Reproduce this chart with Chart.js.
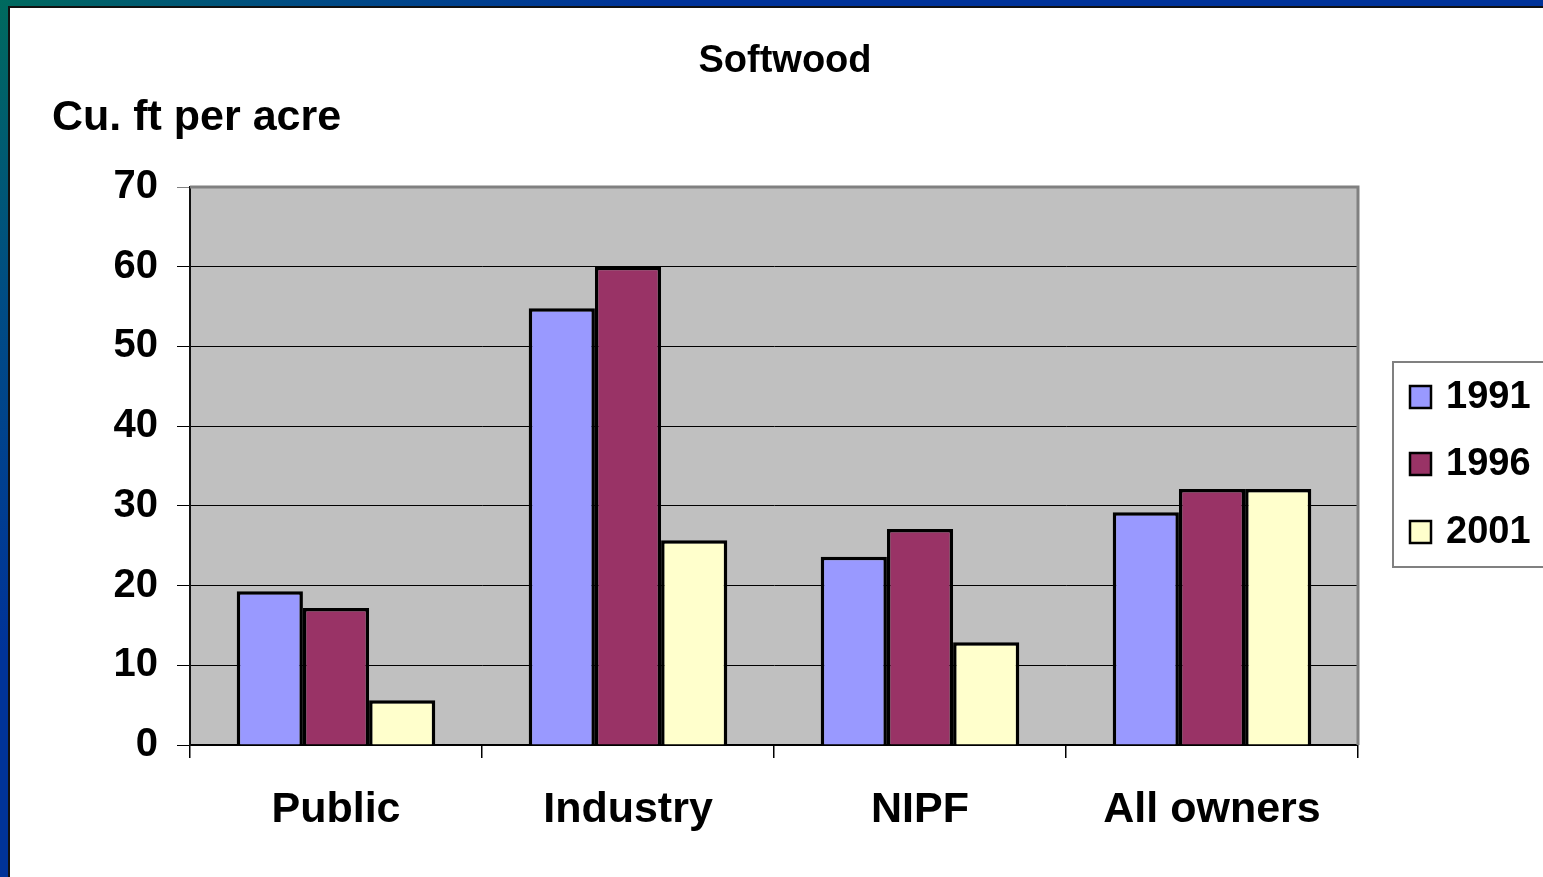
<!DOCTYPE html>
<html>
<head>
<meta charset="utf-8">
<title>Softwood</title>
<script src="https://cdn.jsdelivr.net/npm/chart.js@4/dist/chart.umd.min.js"></script>
<style>
  html, body { margin: 0; padding: 0; }
  body {
    width: 1543px; height: 877px; overflow: hidden; position: relative;
    background: radial-gradient(circle at 0 0, #006a5e 0px, #004c84 300px, #003399 650px);
  }
  #page {
    position: absolute; left: 8px; top: 6px; right: 0; bottom: 0;
    background: #fff; border-left: 2px solid #111; border-top: 2px solid #111;
  }
  #wrap { position: absolute; left: 0; top: 0; width: 1543px; height: 877px; }
</style>
</head>
<body>
<div id="page"></div>
<div id="wrap"><canvas id="softwoodChart" width="1543" height="877"></canvas></div>
<script>
// Volume de résineux par catégorie de propriétaire
const owners = ['Public', 'Industry', 'NIPF', 'All owners'];
const years = ['1991', '1996', '2001'];
const vol1991 = [19.3, 54.8, 23.6, 29.2];
const vol1996 = [17.2, 60.0, 27.1, 32.1];
const vol2001 = [5.6, 25.7, 12.9, 32.1];
const yTicks = [0, 10, 20, 30, 40, 50, 60, 70];

const colors = ['#9999FF', '#993366', '#FFFFCC'];
const FONT = "'Liberation Sans', Arial, sans-serif";

// Fond gris de la zone de tracé + bordure grise haut/droite
const plotBackground = {
    id: 'plotBackground',
    beforeDraw(chart) {
        const { ctx, chartArea: a } = chart;
        ctx.save();
        ctx.fillStyle = '#C0C0C0';
        ctx.fillRect(a.left, a.top, a.right - a.left, a.bottom - a.top);
        ctx.restore();
    },
    afterDatasetsDraw(chart) {
        const { ctx, chartArea: a } = chart;
        ctx.save();
        ctx.strokeStyle = '#808080';
        ctx.lineWidth = 3;
        ctx.beginPath();
        ctx.moveTo(a.left, a.top);
        ctx.lineTo(a.right, a.top);
        ctx.lineTo(a.right, a.bottom);
        ctx.stroke();
        ctx.restore();
    }
};

// Titre, titre de l'axe et légende encadrée
const textsAndLegend = {
    id: 'textsAndLegend',
    afterDraw(chart) {
        const ctx = chart.ctx;
        ctx.save();
        ctx.fillStyle = '#000';
        ctx.textBaseline = 'alphabetic';
        ctx.font = 'bold 38px ' + FONT;
        ctx.textAlign = 'center';
        ctx.fillText('Softwood', 785, 72);
        ctx.font = 'bold 43px ' + FONT;
        ctx.textAlign = 'left';
        ctx.fillText('Cu. ft per acre', 52, 130);

        // légende
        ctx.fillStyle = '#fff';
        ctx.fillRect(1393, 362, 200, 205);
        ctx.strokeStyle = '#808080';
        ctx.lineWidth = 2;
        ctx.strokeRect(1393, 362, 200, 205);
        const rowY = [397, 464, 532];
        chart.data.datasets.forEach((ds, i) => {
            const y = rowY[i];
            ctx.fillStyle = ds.backgroundColor;
            ctx.fillRect(1410, y - 11, 21, 22);
            ctx.strokeStyle = '#000';
            ctx.lineWidth = 2.5;
            ctx.strokeRect(1410, y - 11, 21, 22);
            ctx.fillStyle = '#000';
            ctx.font = 'bold 38px ' + FONT;
            ctx.textBaseline = 'middle';
            ctx.fillText(ds.label, 1446, y + 1);
        });
        ctx.restore();
    }
};

const series = [vol1991, vol1996, vol2001];

new Chart(document.getElementById('softwoodChart'), {
    type: 'bar',
    data: {
        labels: owners,
        datasets: years.map((y, i) => ({
            label: y,
            data: series[i],
            backgroundColor: colors[i],
            borderColor: '#000',
            borderWidth: 3.5,
            borderSkipped: 'bottom',
            categoryPercentage: 0.68,
            barPercentage: 1.0
        }))
    },
    options: {
        responsive: false,
        animation: false,
        layout: { padding: { left: 0, right: 185, top: 187, bottom: 0 } },
        plugins: {
            legend: { display: false },
            title: { display: false },
            tooltip: { enabled: false }
        },
        scales: {
            x: {
                grid: {
                    offset: true,
                    drawOnChartArea: false,
                    color: '#000',
                    lineWidth: 1.5,
                    tickLength: 13
                },
                border: { color: '#000', width: 2 },
                ticks: {
                    color: '#000',
                    padding: 26,
                    font: { family: FONT, size: 43, weight: 'bold' }
                },
                afterFit(scale) { scale.height = 132; }
            },
            y: {
                min: 0,
                max: 70,
                afterBuildTicks(scale) { scale.ticks = yTicks.map(v => ({ value: v })); },
                grid: {
                    color: ctx => (ctx.tick && ctx.tick.value === 70) ? '#808080' : '#000',
                    lineWidth: 1,
                    tickLength: 13
                },
                border: { color: '#111', width: 2 },
                ticks: {
                    color: '#000',
                    padding: 19,
                    font: { family: FONT, size: 40, weight: 'bold' }
                },
                afterFit(scale) { scale.width = 190; }
            }
        }
    },
    plugins: [plotBackground, textsAndLegend]
});
</script>
</body>
</html>
